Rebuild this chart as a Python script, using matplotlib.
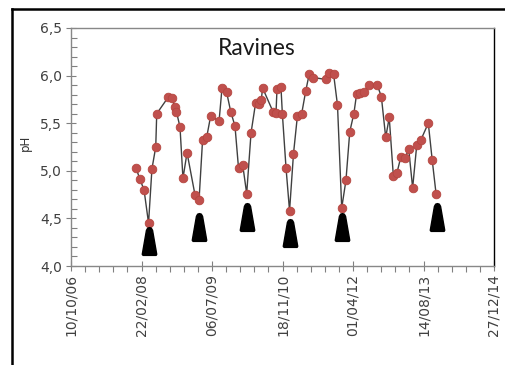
import datetime as dt
import numpy as np
import matplotlib
matplotlib.use("Agg")
import matplotlib.pyplot as plt
import matplotlib.dates as mdates
from matplotlib.path import Path
from matplotlib.lines import Line2D
from matplotlib.ticker import FuncFormatter, FixedLocator

# Sampling dates and pH values
sample_dates = [
    "2008-01-14", "2008-02-11", "2008-03-11", "2008-04-12", "2008-05-06",
    "2008-06-02", "2008-06-09", "2008-08-28", "2008-09-23", "2008-10-17",
    "2008-10-27", "2008-11-21", "2008-12-12", "2009-01-10", "2009-03-07",
    "2009-04-05", "2009-04-30", "2009-05-29", "2009-06-27", "2009-08-25",
    "2009-09-15", "2009-10-17", "2009-11-16", "2009-12-16", "2010-01-10",
    "2010-02-09", "2010-03-09", "2010-04-09", "2010-05-11", "2010-06-06",
    "2010-06-20", "2010-06-30", "2010-09-12", "2010-10-03", "2010-10-10",
    "2010-11-07", "2010-11-17", "2010-12-13", "2011-01-07", "2011-02-04",
    "2011-03-04", "2011-04-03", "2011-05-02", "2011-05-27", "2011-06-24",
    "2011-09-19", "2011-10-17", "2011-11-15", "2011-12-13", "2012-01-12",
    "2012-02-11", "2012-03-09", "2012-04-07", "2012-04-27", "2012-05-24",
    "2012-06-18", "2012-07-25", "2012-09-20", "2012-10-19", "2012-11-19",
    "2012-12-14", "2013-01-12", "2013-02-07", "2013-03-07", "2013-04-05",
    "2013-05-01", "2013-05-29", "2013-06-27", "2013-07-25", "2013-09-17",
    "2013-10-15", "2013-11-11",
]
ph_values = [
    5.03, 4.91, 4.80, 4.45, 5.02, 5.25, 5.60, 5.77, 5.76, 5.67,
    5.62, 5.46, 4.92, 5.19, 4.75, 4.69, 5.32, 5.35, 5.58, 5.52,
    5.87, 5.83, 5.62, 5.47, 5.03, 5.06, 4.76, 5.40, 5.71, 5.70,
    5.74, 5.87, 5.62, 5.61, 5.86, 5.88, 5.60, 5.03, 4.58, 5.18,
    5.58, 5.60, 5.84, 6.02, 5.98, 5.96, 6.03, 6.02, 5.69, 4.61,
    4.90, 5.41, 5.60, 5.81, 5.82, 5.83, 5.90, 5.90, 5.78, 5.35,
    5.56, 4.95, 4.98, 5.15, 5.13, 5.23, 4.82, 5.27, 5.32, 5.50,
    5.11, 4.76,
]

# Black pointers under the yearly minima
pointer_dates = ["2008-04-12", "2009-04-07", "2010-03-09", "2011-01-07",
                 "2012-01-14", "2013-11-18"]
pointer_levels = [4.26, 4.41, 4.51, 4.35, 4.41, 4.51]

title = "Ravines"
y_label = "pH"
x_start, x_end = "2006-10-10", "2014-12-27"


def to_date(s):
    return dt.datetime.strptime(s, "%Y-%m-%d")


dates = [to_date(s) for s in sample_dates]
p_dates = [to_date(s) for s in pointer_dates]
d0, d1 = to_date(x_start), to_date(x_end)

fig = plt.figure(figsize=(5.05, 3.65), dpi=100)
ax = fig.add_axes([71 / 505, 99 / 365, 423 / 505, 238 / 365])

# outer chart frame (cut by the image edges)
fig.add_artist(Line2D([12 / 505, 1.0], [1 - 9 / 365] * 2, color="black",
                      lw=1.8, transform=fig.transFigure))
fig.add_artist(Line2D([12 / 505] * 2, [0.0, 1 - 9 / 365], color="black",
                      lw=1.8, transform=fig.transFigure))

ax.plot(dates, ph_values, color="#404040", lw=1.0, zorder=2,
        marker="o", ms=6.2, mfc="#C0504D", mec="#B5463F", mew=0.6)

# cone shaped pointer marker
cone = Path([(-0.48, -1.0), (0.48, -1.0), (0.52, -0.92), (0.22, 0.8),
             (0.13, 0.96), (0.0, 1.0), (-0.13, 0.96), (-0.22, 0.8),
             (-0.52, -0.92), (-0.48, -1.0)])
ax.plot(p_dates, pointer_levels, ls="none", marker=cone, ms=20,
        color="black", mec="black", zorder=3)

ax.set_xlim(d0, d1)
ax.set_ylim(4.0, 6.5)

major_x = [mdates.date2num(d0 + dt.timedelta(days=500 * i)) for i in range(7)]
minor_x = [mdates.date2num(d0 + dt.timedelta(days=100 * i)) for i in range(31)]
ax.xaxis.set_major_locator(FixedLocator(major_x))
ax.xaxis.set_minor_locator(FixedLocator(minor_x))
ax.xaxis.set_major_formatter(mdates.DateFormatter("%d/%m/%y"))
ax.set_yticks(np.arange(4.0, 6.51, 0.5))
ax.set_yticks(np.arange(4.0, 6.51, 0.1), minor=True)
ax.yaxis.set_major_formatter(FuncFormatter(lambda v, p: f"{v:.1f}".replace(".", ",")))

for lab in ax.get_xticklabels():
    lab.set_rotation(90)
ax.tick_params(axis="both", which="major", direction="inout", length=7,
               width=0.8, color="#808080", labelsize=10, labelcolor="#404040")
ax.tick_params(axis="x", which="major", pad=2)
ax.tick_params(axis="y", which="major", pad=3)
ax.tick_params(axis="x", which="minor", direction="out", length=4,
               width=0.8, color="#808080")
ax.tick_params(axis="y", which="minor", direction="in", length=4,
               width=0.8, color="#808080")

for side in ["left", "bottom", "top"]:
    ax.spines[side].set_color("#888888")
    ax.spines[side].set_linewidth(1.0)
ax.spines["right"].set_color("black")
ax.spines["right"].set_linewidth(1.0)

ax.text(0.438, 0.885, title, transform=ax.transAxes, ha="center",
        va="baseline", fontsize=16.5, family="Lato", color="#1a1a1a")
fig.text(25 / 505, 1 - 143 / 365, y_label, rotation=90, ha="center",
         va="center", fontsize=8.5, color="#333333")

fig.savefig("out.png", dpi=100)
